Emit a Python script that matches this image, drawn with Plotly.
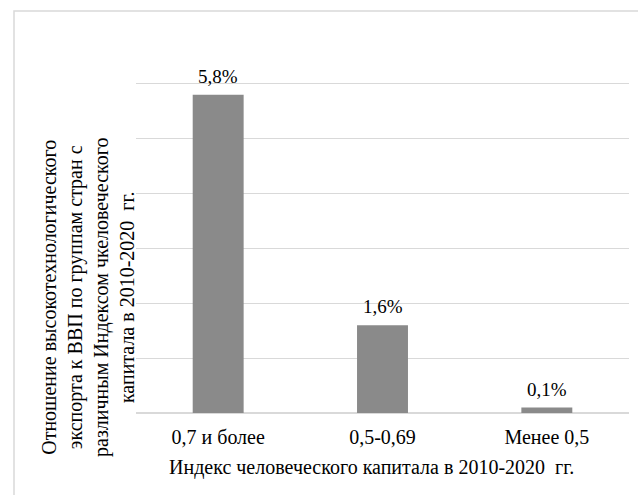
import plotly.graph_objects as go

# Groups of countries by Human Capital Index and their high-tech export share of GDP (%)
categories = ["0,7 и более", "0,5-0,69", "Менее 0,5"]
values = [5.8, 1.6, 0.1]

y_title_lines = [
    "Отношение высокотехнологического",
    "экспорта к ВВП по группам стран с",
    "различным Индексом чкеловеческого",
    "капитала в 2010-2020  гг.",
]
x_title = "Индекс человеческого капитала в 2010-2020  гг."

FONT = "'Times New Roman', 'Liberation Serif', serif"
GRID = "#d9d9d9"
BAR = "#8a8a8a"

W, H = 638, 495
L, R, T, B = 136, 9, 29, 82
pw, ph = W - L - R, H - T - B


def px_x(px):
    return (px - L) / pw


def px_y(py):
    return (H - B - py) / ph


fig = go.Figure()
fig.add_trace(go.Bar(
    x=categories,
    y=values,
    marker=dict(color=BAR, line=dict(width=0)),
    width=0.31,
    hoverinfo="skip",
))

annotations = []
for c, v in zip(categories, values):
    annotations.append(dict(
        x=c, y=v, xref="x", yref="y",
        text=f"{v:.1f}%".replace(".", ","),
        showarrow=False, yanchor="bottom", yshift=6,
        font=dict(family=FONT, size=19, color="#000000"),
    ))

annotations.append(dict(
    x=px_x(88), y=px_y(298), xref="paper", yref="paper",
    text="<br>".join(y_title_lines), textangle=-90,
    showarrow=False, xanchor="center", yanchor="middle", align="center",
    font=dict(family=FONT, size=20, color="#000000"),
))
annotations.append(dict(
    x=px_x(371), y=px_y(467), xref="paper", yref="paper",
    text=x_title, showarrow=False, xanchor="center", yanchor="middle",
    font=dict(family=FONT, size=20, color="#000000"),
))

fig.update_layout(
    width=W, height=H,
    margin=dict(l=L, r=R, t=T, b=B),
    paper_bgcolor="#ffffff", plot_bgcolor="#ffffff",
    showlegend=False,
    font=dict(family=FONT, size=20, color="#000000"),
    annotations=annotations,
    shapes=[dict(
        type="rect", xref="paper", yref="paper", layer="below",
        x0=px_x(14), x1=px_x(645), y0=px_y(505), y1=px_y(11),
        line=dict(color=GRID, width=1.5), fillcolor="rgba(0,0,0,0)",
    )],
    bargap=0.69,
)
fig.update_xaxes(
    showline=False, showgrid=False, ticks="", ticklabelstandoff=10,
    tickfont=dict(family=FONT, size=20, color="#000000"),
)
fig.update_yaxes(
    range=[0, 7], dtick=1, showticklabels=False, showgrid=True,
    gridcolor=GRID, gridwidth=1, zeroline=True, zerolinecolor=GRID,
    zerolinewidth=1.5, showline=False,
)

fig.write_html("out.html")
